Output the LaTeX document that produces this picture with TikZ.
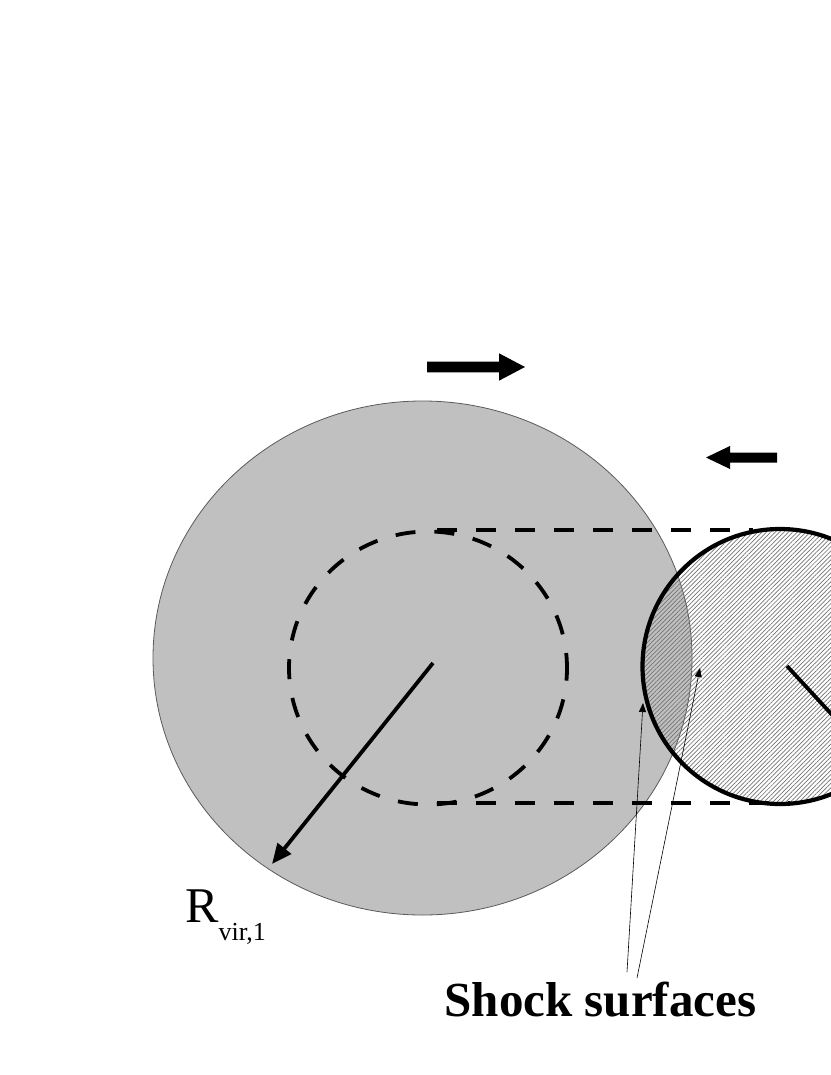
\documentclass[tikz,border=0pt]{standalone}
\usepackage{fontspec}
\setmainfont{Liberation Serif}
\usetikzlibrary{arrows.meta,patterns.meta}
\definecolor{halogray}{RGB}{192,192,192}
\definecolor{rimgray}{RGB}{90,90,90}
\definecolor{hatchgray}{RGB}{115,115,115}
\begin{document}
\begin{tikzpicture}[x=1pt,y=-1pt,
  halo/.style={fill=halogray, draw=rimgray, line width=0.8pt},
  dashline/.style={line width=3.8pt, dash pattern=on 20pt off 19pt},
  hatchdisc/.style={pattern={Lines[angle=45,distance=3.1pt,line width=0.7pt]}, pattern color=hatchgray},
  rim/.style={line width=4.2pt},
  radius/.style={line width=3.8pt, -{Triangle[length=20pt,width=17pt]}},
  pointer/.style={line width=0.6pt, -{Triangle[length=9pt,width=7pt]}},
  blockarrow/.style={fill=black, draw=none}]
\useasboundingbox (0,0) rectangle (830,1075);

% named points
\coordinate (c1) at (422.5,658);
\coordinate (cd) at (428,668);
\coordinate (c2) at (780,666.5);

% big gray halo
\draw[halo] (c1) ellipse [x radius=269.5pt, y radius=257pt];

% dashed inner circle
\draw[dashline, dash phase=5pt] (cd) ellipse [x radius=139pt, y radius=136.5pt];

% dashed tangents
\coordinate (t1) at (437,530);
\coordinate (t2) at (753,530);
\coordinate (b1) at (437,803);
\coordinate (b2) at (790,803);
\draw[dashline] (t1) -- (t2);
\draw[dashline] (b1) -- (b2);

% hatched subcluster
\fill[hatchdisc] (c2) ellipse [x radius=137.5pt, y radius=137.5pt];
\draw[rim] (c2) ellipse [x radius=137.5pt, y radius=137.5pt];

% radius lines
\coordinate (r1s) at (433,663);
\coordinate (r1e) at (272,864);
\draw[radius] (r1s) -- (r1e);
\coordinate (r2s) at (787,666);
\coordinate (r2e) at (835,718);
\draw[line width=3.8pt] (r2s) -- (r2e);

% motion arrows
\fill[blockarrow] (427,361.7) -- (499,361.7) -- (499,353.3) -- (525,367) -- (499,380.7) -- (499,372.3) -- (427,372.3) -- cycle;
\fill[blockarrow] (777,452.7) -- (730,452.7) -- (730,446) -- (706,457.5) -- (730,469) -- (730,462.7) -- (777,462.7) -- cycle;

% labels
\node[anchor=base west, inner sep=0pt] (rlabel) at (185,922)
  {\fontsize{50}{50}\selectfont R\raisebox{-18pt}{\fontsize{26}{26}\selectfont vir,1}};
\node[anchor=base, inner sep=0pt] (shock) at (600.5,1016)
  {\fontsize{49}{49}\selectfont\bfseries Shock surfaces};

% shock pointers
\coordinate (s1) at (643,703);
\coordinate (s2) at (700,668);
\coordinate (p1) at (627,972);
\coordinate (p2) at (637,978);
\draw[pointer] (p1) -- (s1);
\draw[pointer] (p2) -- (s2);
\end{tikzpicture}
\end{document}
